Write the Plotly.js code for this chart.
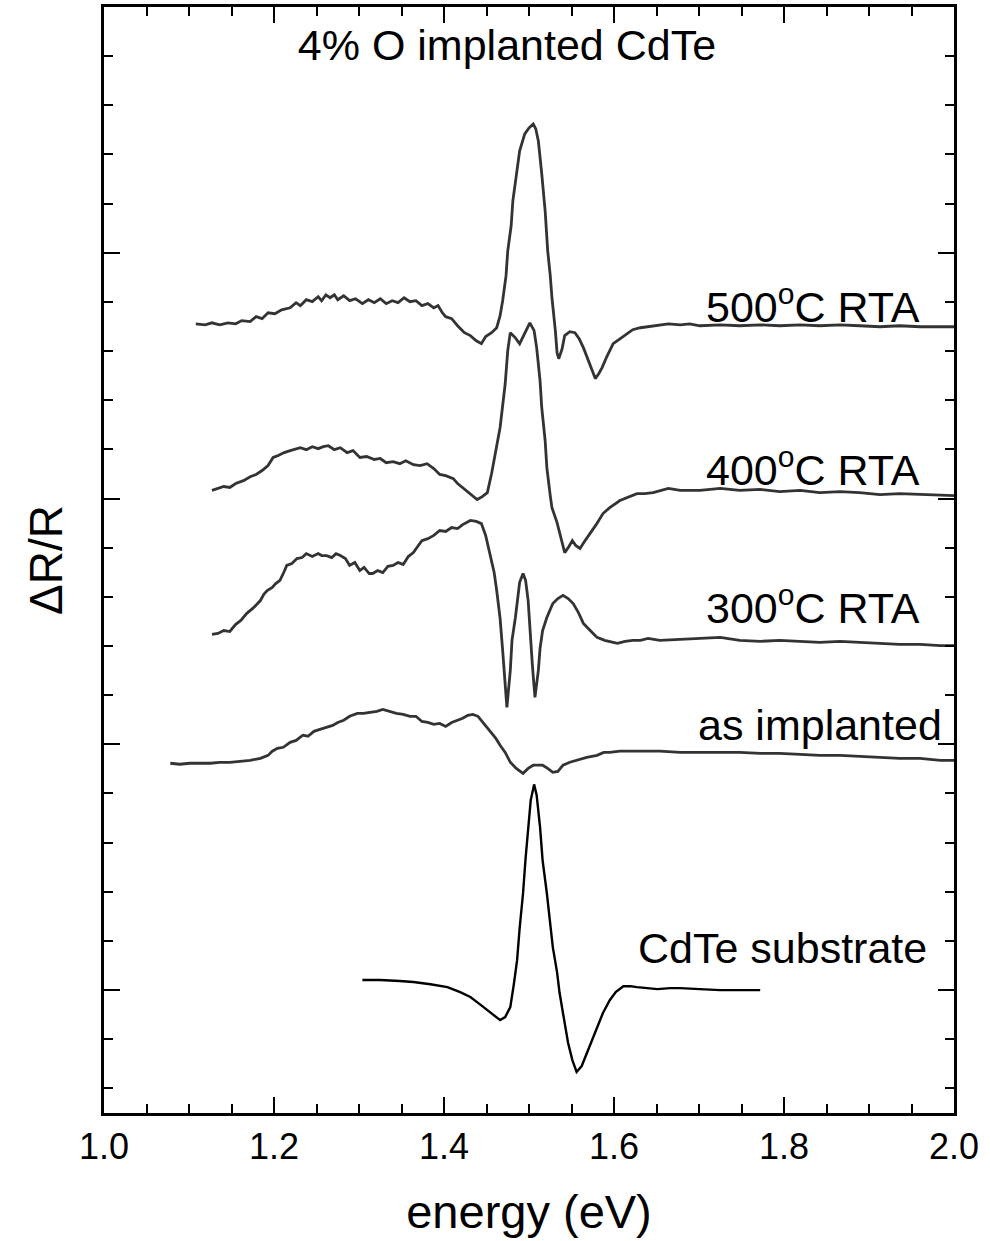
<!DOCTYPE html>
<html>
<head>
<meta charset="utf-8">
<script src="https://cdn.plot.ly/plotly-3.0.1.min.js"></script>
<style>html,body{margin:0;padding:0;background:#fff;}#chart{width:990px;height:1241px;}</style>
</head>
<body>
<div id="chart"></div>
<script>
// Energy (eV) and dR/R (arbitrary units, curves offset vertically)
const e500 = [1.108,1.119,1.127,1.136,1.146,1.155,1.162,1.172,1.179,1.186,1.193,1.201,1.209,1.219,1.226,1.231,1.238,1.245,1.252,1.256,1.261,1.266,1.271,1.275,1.282,1.289,1.296,1.304,1.311,1.318,1.325,1.332,1.339,1.346,1.353,1.360,1.367,1.374,1.381,1.388,1.393,1.398,1.402,1.409,1.416,1.424,1.431,1.438,1.444,1.449,1.456,1.462,1.466,1.469,1.473,1.475,1.479,1.481,1.485,1.489,1.495,1.500,1.505,1.508,1.511,1.513,1.515,1.519,1.522,1.525,1.527,1.531,1.533,1.535,1.539,1.542,1.548,1.554,1.559,1.564,1.569,1.574,1.578,1.582,1.586,1.592,1.599,1.607,1.615,1.622,1.631,1.639,1.646,1.654,1.664,1.678,1.689,1.701,1.725,1.748,1.772,1.795,1.819,1.842,1.866,1.889,1.913,1.936,1.960,1.984,2.000];
const r500 = [2.711,2.707,2.715,2.707,2.715,2.711,2.724,2.720,2.740,2.732,2.756,2.752,2.768,2.776,2.797,2.785,2.809,2.801,2.821,2.805,2.829,2.817,2.829,2.809,2.825,2.805,2.813,2.793,2.809,2.797,2.813,2.793,2.805,2.797,2.817,2.801,2.805,2.785,2.793,2.776,2.785,2.756,2.740,2.732,2.703,2.675,2.663,2.642,2.630,2.659,2.675,2.695,2.744,2.805,2.907,3.008,3.110,3.211,3.313,3.415,3.484,3.508,3.524,3.504,3.455,3.394,3.321,3.171,3.008,2.907,2.817,2.683,2.593,2.569,2.610,2.663,2.679,2.675,2.650,2.614,2.569,2.520,2.488,2.508,2.533,2.581,2.630,2.650,2.671,2.687,2.695,2.699,2.703,2.707,2.711,2.707,2.711,2.703,2.707,2.703,2.707,2.703,2.707,2.703,2.707,2.703,2.699,2.703,2.699,2.699,2.699];

const e400 = [1.127,1.134,1.141,1.148,1.155,1.164,1.172,1.179,1.186,1.193,1.199,1.205,1.212,1.219,1.226,1.231,1.238,1.245,1.252,1.258,1.264,1.271,1.278,1.286,1.293,1.301,1.309,1.318,1.325,1.332,1.340,1.348,1.355,1.364,1.372,1.380,1.388,1.395,1.402,1.411,1.416,1.422,1.431,1.439,1.445,1.451,1.456,1.461,1.466,1.472,1.475,1.478,1.484,1.489,1.495,1.501,1.506,1.509,1.513,1.515,1.519,1.521,1.525,1.527,1.533,1.538,1.542,1.547,1.551,1.555,1.560,1.566,1.572,1.579,1.587,1.595,1.607,1.616,1.627,1.636,1.646,1.664,1.678,1.701,1.725,1.748,1.772,1.795,1.819,1.842,1.866,1.889,1.913,1.936,1.960,1.984,2.000];
const r400 = [2.033,2.041,2.049,2.045,2.061,2.073,2.089,2.098,2.114,2.134,2.167,2.175,2.187,2.195,2.203,2.207,2.199,2.211,2.203,2.211,2.215,2.199,2.207,2.187,2.195,2.167,2.171,2.159,2.163,2.146,2.150,2.142,2.154,2.138,2.134,2.142,2.122,2.098,2.093,2.081,2.061,2.045,2.020,1.996,2.008,2.024,2.102,2.195,2.289,2.467,2.602,2.675,2.654,2.630,2.671,2.715,2.683,2.614,2.480,2.370,2.236,2.126,2.012,1.963,1.902,1.829,1.780,1.805,1.829,1.809,1.797,1.829,1.858,1.894,1.939,1.963,1.992,2.004,2.020,2.020,2.024,2.041,2.033,2.033,2.041,2.033,2.037,2.028,2.033,2.024,2.028,2.024,2.016,2.020,2.016,2.012,2.012];

const e300 = [1.127,1.134,1.141,1.148,1.155,1.161,1.168,1.175,1.184,1.188,1.192,1.198,1.202,1.207,1.212,1.215,1.221,1.227,1.233,1.238,1.245,1.252,1.256,1.262,1.268,1.273,1.278,1.284,1.289,1.295,1.301,1.306,1.312,1.316,1.322,1.328,1.334,1.340,1.346,1.352,1.358,1.364,1.369,1.374,1.381,1.388,1.395,1.402,1.409,1.416,1.422,1.431,1.438,1.444,1.449,1.454,1.459,1.462,1.466,1.469,1.472,1.474,1.478,1.480,1.484,1.487,1.489,1.493,1.496,1.499,1.501,1.504,1.507,1.511,1.513,1.516,1.521,1.528,1.534,1.540,1.546,1.552,1.558,1.564,1.572,1.580,1.589,1.598,1.604,1.613,1.622,1.631,1.640,1.654,1.678,1.701,1.725,1.748,1.772,1.795,1.819,1.842,1.866,1.889,1.913,1.936,1.960,1.984,2.000];
const r300 = [1.447,1.451,1.463,1.459,1.488,1.504,1.533,1.553,1.585,1.610,1.626,1.638,1.654,1.667,1.703,1.728,1.736,1.756,1.760,1.776,1.764,1.776,1.768,1.768,1.760,1.776,1.768,1.756,1.728,1.740,1.707,1.720,1.695,1.695,1.707,1.699,1.724,1.728,1.740,1.732,1.764,1.780,1.805,1.829,1.837,1.850,1.870,1.866,1.882,1.878,1.894,1.911,1.907,1.898,1.850,1.776,1.699,1.626,1.512,1.382,1.260,1.150,1.301,1.423,1.516,1.606,1.659,1.695,1.667,1.585,1.463,1.321,1.191,1.301,1.390,1.463,1.516,1.573,1.593,1.606,1.593,1.573,1.537,1.492,1.463,1.435,1.423,1.415,1.411,1.419,1.423,1.423,1.431,1.423,1.427,1.431,1.435,1.423,1.419,1.423,1.419,1.415,1.419,1.415,1.411,1.407,1.407,1.402,1.402];

const eAs = [1.078,1.089,1.101,1.113,1.125,1.136,1.148,1.160,1.172,1.184,1.193,1.198,1.204,1.211,1.219,1.226,1.234,1.240,1.247,1.254,1.262,1.269,1.275,1.282,1.289,1.298,1.305,1.313,1.321,1.328,1.336,1.344,1.352,1.360,1.367,1.374,1.381,1.388,1.395,1.402,1.409,1.416,1.422,1.428,1.434,1.440,1.446,1.454,1.461,1.466,1.472,1.478,1.485,1.493,1.499,1.505,1.511,1.516,1.522,1.528,1.534,1.540,1.548,1.556,1.568,1.580,1.588,1.595,1.607,1.619,1.640,1.654,1.678,1.701,1.725,1.748,1.772,1.795,1.819,1.842,1.866,1.889,1.913,1.936,1.960,1.984,2.000];
const rAs = [0.923,0.919,0.923,0.923,0.923,0.927,0.927,0.931,0.935,0.943,0.955,0.972,0.984,0.988,1.008,1.016,1.037,1.033,1.053,1.061,1.069,1.077,1.089,1.098,1.114,1.126,1.126,1.130,1.134,1.142,1.134,1.126,1.122,1.114,1.114,1.093,1.089,1.081,1.085,1.073,1.089,1.098,1.106,1.118,1.122,1.114,1.089,1.057,1.024,0.996,0.967,0.927,0.902,0.882,0.902,0.915,0.915,0.915,0.902,0.886,0.890,0.915,0.927,0.935,0.947,0.955,0.967,0.967,0.972,0.972,0.972,0.972,0.967,0.967,0.967,0.967,0.963,0.963,0.959,0.955,0.955,0.951,0.947,0.943,0.943,0.935,0.935];

const eSub = [1.304,1.325,1.348,1.364,1.384,1.404,1.419,1.431,1.442,1.451,1.459,1.466,1.472,1.478,1.482,1.486,1.489,1.493,1.496,1.499,1.502,1.506,1.509,1.513,1.516,1.521,1.525,1.528,1.533,1.536,1.541,1.546,1.551,1.556,1.562,1.568,1.574,1.580,1.587,1.595,1.602,1.611,1.619,1.627,1.639,1.651,1.666,1.678,1.701,1.725,1.748,1.772];
const rSub = [0.041,0.041,0.037,0.033,0.024,0.012,-0.008,-0.028,-0.057,-0.081,-0.106,-0.122,-0.110,-0.069,0.020,0.122,0.252,0.394,0.537,0.663,0.772,0.837,0.793,0.663,0.528,0.394,0.276,0.175,0.073,-0.012,-0.114,-0.215,-0.285,-0.333,-0.309,-0.256,-0.203,-0.150,-0.093,-0.041,-0.008,0.016,0.016,0.012,0.008,0.004,0.008,0.008,0.004,0.000,0.000,0.000];

const labels = ["500<sup>o</sup>C RTA","400<sup>o</sup>C RTA","300<sup>o</sup>C RTA","as implanted","CdTe substrate"];
const labelX = [1.962,1.962,1.962,1.988,1.970];
const labelY = [2.790,2.130,1.565,1.077,0.171];

const gray = '#333333';
const traces = [
  {x:e500, y:r500, name:labels[0], line:{color:gray,width:2.8}},
  {x:e400, y:r400, name:labels[1], line:{color:gray,width:2.8}},
  {x:e300, y:r300, name:labels[2], line:{color:gray,width:2.8}},
  {x:eAs,  y:rAs,  name:labels[3], line:{color:gray,width:2.8}},
  {x:eSub, y:rSub, name:labels[4], line:{color:'#000000',width:2.4}}
].map(t => Object.assign({type:'scatter', mode:'lines', hoverinfo:'skip'}, t));

const font = 'Liberation Sans, Arial, sans-serif';
const annotations = labels.map((txt,i) => ({
  text: txt, x: labelX[i], y: labelY[i], xref:'x', yref:'y',
  xanchor:'right', yanchor:'middle', showarrow:false,
  font:{family:font, size:43, color:'#000'}
}));

const layout = {
  width:990, height:1241,
  margin:{l:104, r:36, t:7, b:128},
  paper_bgcolor:'#fff', plot_bgcolor:'#fff',
  showlegend:false,
  font:{family:font, color:'#000'},
  title:{text:'4% O implanted CdTe', x:0.228, xref:'paper', xanchor:'left', y:0.9637, yref:'container', yanchor:'middle', font:{family:font, size:43, color:'#000'}},
  xaxis:{
    range:[1.0,2.0], tick0:1.0, dtick:0.2, tickformat:'.1f',
    ticks:'inside', ticklen:16, tickwidth:2, tickcolor:'#000',
    showline:true, linewidth:3, linecolor:'#000', mirror:'ticks',
    showgrid:false, zeroline:false,
    minor:{dtick:0.05, ticks:'inside', ticklen:9, tickwidth:2, tickcolor:'#000', showgrid:false},
    tickfont:{family:font, size:36, color:'#000'},
    title:{text:'energy (eV)', font:{family:font, size:47, color:'#000'}, standoff:29}
  },
  yaxis:{
    range:[-0.5,4.0], tick0:0, dtick:1,
    ticks:'inside', ticklen:16, tickwidth:2, tickcolor:'#000',
    showline:true, linewidth:3, linecolor:'#000', mirror:'ticks',
    showgrid:false, zeroline:false, showticklabels:false,
    minor:{dtick:0.2, ticks:'inside', ticklen:9, tickwidth:2, tickcolor:'#000', showgrid:false},
    title:{text:'ΔR/R', font:{family:font, size:46, color:'#000'}, standoff:24}
  },
  annotations: annotations
};

Plotly.newPlot('chart', traces, layout, {staticPlot:true, displayModeBar:false});
</script>
</body>
</html>
